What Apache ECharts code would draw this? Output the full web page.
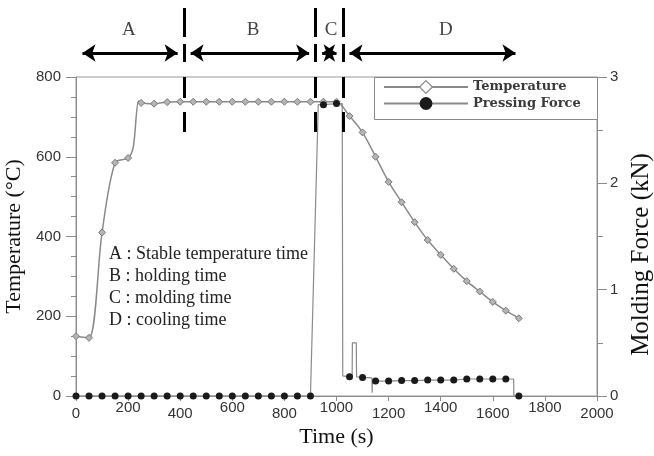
<!DOCTYPE html>
<html>
<head>
<meta charset="utf-8">
<script src="https://cdn.jsdelivr.net/npm/echarts/dist/echarts.min.js"></script>
<style>
  html, body { margin: 0; padding: 0; background: #fff; }
  #chart { width: 654px; height: 456px; }
</style>
</head>
<body>
<div id="chart"></div>
<script>
  // temperature curve, markers every 50 s (220 / 240 only shape the fast rise)
  const tempTimes = [0, 50, 100, 150, 200, 220, 240, 250, 300, 350, 400, 450, 500, 550, 600, 650,
    700, 750, 800, 850, 900, 950, 1000, 1050, 1100, 1150, 1200, 1250, 1300, 1350, 1400, 1450,
    1500, 1550, 1600, 1650, 1700];
  const tempValues = [150, 146, 410, 585, 597, 625, 740, 735, 733, 737, 738, 738, 738, 738, 738, 738,
    738, 738, 738, 738, 738, 738, 738, 702, 661, 600, 537, 486, 436, 391, 354, 319,
    288, 262, 236, 214, 195];

  // pressing force (kN), dots on the 50 s readings
  const forceTimes = [0, 50, 100, 150, 200, 250, 300, 350, 400, 450, 500, 550, 600, 650, 700, 750,
    800, 850, 900, 907, 930, 950, 1000, 1022, 1024, 1050, 1060, 1061, 1076, 1077, 1100, 1136,
    1137, 1138, 1150, 1200, 1250, 1300, 1350, 1400, 1450, 1500, 1550, 1600, 1650, 1680, 1681, 1700];
  const forceValues = [0, 0, 0, 0, 0, 0, 0, 0, 0, 0, 0, 0, 0, 0, 0, 0,
    0, 0, 0, 0, 2.74, 2.74, 2.75, 2.75, 0.19, 0.18, 0.18, 0.5, 0.5, 0.18, 0.175, 0.17,
    0.03, 0.145, 0.14, 0.14, 0.145, 0.145, 0.15, 0.15, 0.15, 0.16, 0.16, 0.16, 0.16, 0.16, 0, 0];

  // process phases
  const phaseNames = ['A', 'B', 'C', 'D'];
  const phaseEdges = [0, 415, 920, 1025, 1712];
  const phaseLabelTimes = [203, 680, 979, 1420];
  const dashSegments = [[8, 37], [44, 62], [77, 98], [112, 132]];

  const notes = [
    'A : Stable temperature time',
    'B : holding time',
    'C : molding time',
    'D : cooling time'
  ];

  const SERIF = '"Liberation Serif", "Times New Roman", serif';
  const SANS = '"Liberation Sans", Arial, sans-serif';
  const AXIS_GRAY = '#8c8c8c';
  const ARROW_Y = 53;
  const LABEL_Y = 30;
  const HEAD = 13;
  // half arrow head expressed in seconds, so tips meet at the phase edges
  const inset = (HEAD / 2) * 2000 / (654 - 76 - 57);

  const chart = echarts.init(document.getElementById('chart'));

  const arrowLines = [];
  for (let i = 0; i < phaseNames.length; i++) {
    arrowLines.push([
      { coord: [phaseEdges[i] + inset, ARROW_Y] },
      { coord: [phaseEdges[i + 1] - inset, ARROW_Y] }
    ]);
  }
  [1, 2, 3].forEach(i => {
    dashSegments.forEach(seg => {
      arrowLines.push([
        { coord: [phaseEdges[i], seg[0]], symbol: 'none' },
        { coord: [phaseEdges[i], seg[1]], symbol: 'none' }
      ]);
    });
  });

  const option = {
    animation: false,
    backgroundColor: '#fff',
    grid: [
      {
        left: 76, right: 57, top: 77, bottom: 60,
        outerBoundsMode: 'none', containLabel: false,
        show: true, borderColor: '#999', borderWidth: 1
      },
      { left: 76, right: 57, top: 0, height: 140, outerBoundsMode: 'none', containLabel: false }
    ],
    legend: {
      orient: 'vertical',
      left: 383,
      top: 80,
      padding: 0,
      itemWidth: 84,
      itemHeight: 16,
      itemGap: 3,
      selectedMode: false,
      textStyle: { fontFamily: '"DejaVu Serif", serif', fontWeight: 'bold', fontSize: 13, color: '#3a3a3a' },
      data: [
        { name: 'Temperature', itemStyle: { color: '#fff', borderColor: '#888', borderWidth: 1.2 } },
        { name: 'Pressing Force' }
      ]
    },
    graphic: [
      {
        type: 'rect',
        left: 374,
        top: 77,
        z: 3,
        shape: { width: 223, height: 42 },
        style: { fill: '#fff', stroke: '#888', lineWidth: 1 }
      },
      {
        type: 'text',
        left: 109,
        top: 243,
        style: {
          text: notes.join('\n'),
          fontFamily: SERIF,
          fontSize: 18,
          lineHeight: 22,
          fill: '#222'
        }
      }
    ],
    xAxis: [
      {
        type: 'value',
        gridIndex: 0,
        min: 0,
        max: 2000,
        interval: 200,
        name: 'Time (s)',
        nameLocation: 'middle',
        nameGap: 30,
        nameTextStyle: { fontFamily: SERIF, fontSize: 22, color: '#111' },
        axisLine: { lineStyle: { color: AXIS_GRAY } },
        axisTick: { show: true, length: 5, lineStyle: { color: AXIS_GRAY } },
        splitLine: { show: false },
        axisLabel: {
          margin: 4,
          formatter: v => ((v / 200) % 2 === 1 ? '{hi|' + v + '}' : '{lo|' + v + '}'),
          rich: {
            hi: { fontFamily: SANS, fontSize: 15, color: '#333' },
            lo: { fontFamily: SANS, fontSize: 15, color: '#333', padding: [6, 0, 0, 0] }
          }
        }
      },
      { type: 'value', gridIndex: 1, min: 0, max: 2000, show: false }
    ],
    yAxis: [
      {
        type: 'value',
        gridIndex: 0,
        position: 'left',
        min: 0,
        max: 800,
        interval: 200,
        name: 'Temperature (°C)',
        nameLocation: 'middle',
        nameRotate: 90,
        nameGap: 48,
        nameTextStyle: { fontFamily: SERIF, fontSize: 22, color: '#111' },
        axisLine: { show: true, lineStyle: { color: AXIS_GRAY } },
        axisTick: { show: true, length: 10, lineStyle: { color: AXIS_GRAY } },
        minorTick: { show: true, splitNumber: 4, length: 5, lineStyle: { color: AXIS_GRAY } },
        splitLine: { show: false },
        axisLabel: { fontFamily: SANS, fontSize: 15, color: '#333', margin: 15 }
      },
      {
        type: 'value',
        gridIndex: 0,
        position: 'right',
        min: 0,
        max: 3,
        interval: 1,
        name: 'Molding Force (kN)',
        nameLocation: 'middle',
        nameRotate: 90,
        nameGap: 26,
        nameTextStyle: { fontFamily: SERIF, fontSize: 25, color: '#111', padding: [0, 36, 0, 0] },
        axisLine: { show: true, lineStyle: { color: AXIS_GRAY } },
        axisTick: { show: true, length: 10, lineStyle: { color: AXIS_GRAY } },
        minorTick: { show: true, splitNumber: 2, length: 6, lineStyle: { color: AXIS_GRAY } },
        splitLine: { show: false },
        axisLabel: { fontFamily: SANS, fontSize: 15, color: '#333', margin: 13 }
      },
      { type: 'value', gridIndex: 1, min: 0, max: 140, inverse: true, show: false }
    ],
    series: [
      {
        name: 'Temperature',
        type: 'line',
        xAxisIndex: 0,
        yAxisIndex: 0,
        smooth: 0.3,
        symbol: 'diamond',
        symbolSize: 7,
        showAllSymbol: true,
        lineStyle: { color: '#8a8a8a', width: 1.5 },
        itemStyle: { color: '#b4b4b4', borderColor: '#7a7a7a', borderWidth: 1 },
        data: tempTimes.map((t, i) => ({
          value: [t, tempValues[i]],
          symbol: t % 50 === 0 ? 'diamond' : 'none'
        }))
      },
      {
        name: 'Pressing Force',
        type: 'line',
        xAxisIndex: 0,
        yAxisIndex: 1,
        symbol: 'circle',
        symbolSize: 7,
        showAllSymbol: true,
        lineStyle: { color: '#8a8a8a', width: 1.2 },
        itemStyle: { color: '#1a1a1a' },
        data: forceTimes.map((t, i) => ({
          value: [t, forceValues[i]],
          symbol: t % 50 === 0 ? 'circle' : 'none'
        }))
      },
      {
        name: 'phases',
        type: 'scatter',
        xAxisIndex: 1,
        yAxisIndex: 2,
        symbolSize: 1,
        itemStyle: { color: 'rgba(0,0,0,0)' },
        silent: true,
        label: {
          show: true,
          position: 'inside',
          formatter: '{b}',
          fontFamily: SERIF,
          fontSize: 19,
          color: '#111'
        },
        data: phaseLabelTimes.map((t, i) => ({ name: phaseNames[i], value: [t, LABEL_Y] })),
        markLine: {
          silent: true,
          symbol: ['arrow', 'arrow'],
          symbolSize: [HEAD, HEAD],
          label: { show: false },
          lineStyle: { color: '#000', width: 3, type: 'solid' },
          emphasis: { disabled: true },
          data: arrowLines
        }
      }
    ]
  };

  chart.setOption(option);
  window.addEventListener('resize', () => chart.resize());
</script>
</body>
</html>
